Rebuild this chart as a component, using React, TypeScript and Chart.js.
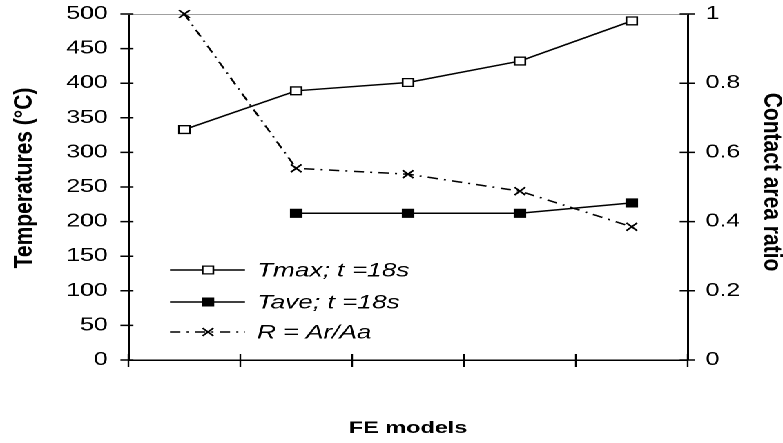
import React, { useEffect, useRef } from 'react';
import { Chart, registerables } from 'chart.js';

Chart.register(...registerables);

// ---- data ----
const categories = ['Model 1', 'Model 2', 'Model 3', 'Model 4', 'Model 5'];
const tmax = [333, 389, 401, 432, 490];
const tave = [null, 212, 212, 212, 227];
const ratio = [1.0, 0.554, 0.537, 0.488, 0.385];
const seriesLabels = ['Tmax; t =18s', 'Tave; t =18s', 'R = Ar/Aa'];
const leftTitle = 'Temperatures (°C)';
const rightTitle = 'Contact area ratio';
const xTitle = 'FE models';

// ---- layout (drawn at narrow width, then stretched horizontally like the reference) ----
const W = 567;
const H = 443;
const SX = 783 / W;
const DASH = [7.5, 4.5, 1.5, 4.5];
const FONT = "'Liberation Sans', Arial, sans-serif";

const axisDecor = {
  id: 'axisDecor',
  beforeDatasetsDraw(chart: any) {
    const { ctx, chartArea: ca, scales } = chart;
    ctx.save();
    ctx.strokeStyle = '#a0a0a0';
    ctx.lineWidth = 1;
    ctx.beginPath();
    ctx.moveTo(ca.left, ca.top + 0.5);
    ctx.lineTo(ca.right, ca.top + 0.5);
    ctx.stroke();

    ctx.strokeStyle = '#000';
    ctx.lineWidth = 1.5;
    ctx.beginPath();
    for (const t of scales.y.ticks) {
      const py = scales.y.getPixelForValue(t.value);
      ctx.moveTo(ca.left - 5.8, py);
      ctx.lineTo(ca.left + 3.6, py);
    }
    for (const t of scales.y1.ticks) {
      const py = scales.y1.getPixelForValue(t.value);
      ctx.moveTo(ca.right - 5.8, py);
      ctx.lineTo(ca.right + 5, py);
    }
    ctx.stroke();
    ctx.lineWidth = 1.2;
    ctx.beginPath();
    for (let i = 0; i <= categories.length; i++) {
      const px = scales.x.getPixelForValue(i - 0.5);
      ctx.moveTo(px, ca.bottom - 6);
      ctx.lineTo(px, ca.bottom + 7);
    }
    ctx.stroke();
    ctx.restore();
  },
  afterDraw(chart: any) {
    const { ctx } = chart;
    const k = 1.2 / SX;
    const draw = (text: string, cx: number, cy: number, rot: number) => {
      ctx.save();
      ctx.translate(cx, cy);
      ctx.scale(k, 1);
      ctx.rotate(rot);
      ctx.font = `bold 21px ${FONT}`;
      ctx.fillStyle = '#000';
      ctx.textAlign = 'center';
      ctx.textBaseline = 'middle';
      ctx.fillText(text, 0, 0);
      ctx.restore();
    };
    draw(leftTitle, 18.1, 178, -Math.PI / 2);
    draw(rightTitle, 558.3, 182, Math.PI / 2);
  },
};

function drawRect(ctx: CanvasRenderingContext2D, x: number, y: number, fill: string) {
  const s = 5.5 * Math.SQRT2;
  ctx.beginPath();
  ctx.rect(x - s / 2, y - s / 2, s, s);
  ctx.fillStyle = fill;
  ctx.fill();
  ctx.lineWidth = 1.3;
  ctx.strokeStyle = '#000';
  ctx.stroke();
}

function drawCross(ctx: CanvasRenderingContext2D, x: number, y: number) {
  const h = 5.5 * Math.SQRT1_2;
  ctx.beginPath();
  ctx.moveTo(x - h, y - h);
  ctx.lineTo(x + h, y + h);
  ctx.moveTo(x - h, y + h);
  ctx.lineTo(x + h, y - h);
  ctx.lineWidth = 1.5;
  ctx.strokeStyle = '#000';
  ctx.stroke();
}

const legendBox = {
  id: 'legendBox',
  afterDatasetsDraw(chart: any) {
    const { ctx } = chart;
    const x0 = 123.1;
    const x1 = 177.4;
    const xm = 150.6;
    const xt = 186.1;
    const rows = [270, 302, 332];
    ctx.save();
    rows.forEach((y, i) => {
      ctx.beginPath();
      ctx.setLineDash(i === 2 ? DASH : []);
      ctx.moveTo(x0, y);
      ctx.lineTo(x1, y);
      ctx.lineWidth = 1.5;
      ctx.strokeStyle = '#000';
      ctx.stroke();
      ctx.setLineDash([]);
      if (i === 0) drawRect(ctx, xm, y, '#fff');
      else if (i === 1) drawRect(ctx, xm, y, '#000');
      else drawCross(ctx, xm, y);
      ctx.fillStyle = '#000';
      ctx.font = `italic 19px ${FONT}`;
      ctx.textAlign = 'left';
      ctx.textBaseline = 'middle';
      ctx.fillText(seriesLabels[i], xt, y + 1);
    });
    ctx.restore();
  },
};

const fmtRatio = (v: any) => String(Number(Number(v).toFixed(1)));

export default function App() {
  const ref = useRef<HTMLCanvasElement | null>(null);

  useEffect(() => {
    if (!ref.current) return;
    const tickFont = { family: FONT, size: 18 };
    const chart = new Chart(ref.current, {
      type: 'line',
      data: {
        labels: categories,
        datasets: [
          {
            label: seriesLabels[0],
            data: tmax,
            yAxisID: 'y',
            borderColor: '#000',
            borderWidth: 1.5,
            pointStyle: 'rect',
            pointRadius: 5.5,
            pointBackgroundColor: '#fff',
            pointBorderColor: '#000',
            pointBorderWidth: 1.3,
            tension: 0,
            clip: false,
          } as any,
          {
            label: seriesLabels[1],
            data: tave,
            yAxisID: 'y',
            borderColor: '#000',
            borderWidth: 1.5,
            pointStyle: 'rect',
            pointRadius: 5.5,
            pointBackgroundColor: '#000',
            pointBorderColor: '#000',
            pointBorderWidth: 1.3,
            tension: 0,
            clip: false,
          } as any,
          {
            label: seriesLabels[2],
            data: ratio,
            yAxisID: 'y1',
            borderColor: '#000',
            borderWidth: 1.5,
            borderDash: DASH,
            pointStyle: 'crossRot',
            pointRadius: 5.5,
            pointBorderColor: '#000',
            pointBorderWidth: 1.5,
            tension: 0,
            clip: false,
          } as any,
        ],
      },
      options: {
        responsive: false,
        animation: false,
        devicePixelRatio: 2,
        layout: { padding: { top: 14, left: 0, right: 0, bottom: 0 }, autoPadding: false } as any,
        plugins: { legend: { display: false }, tooltip: { enabled: false } },
        scales: {
          x: {
            type: 'category',
            offset: true,
            grid: { display: false, drawTicks: false },
            border: { display: true, color: '#000', width: 1.5 },
            ticks: { display: false },
            title: {
              display: true,
              text: xTitle,
              color: '#000',
              font: { family: FONT, size: 17, weight: 'bold', lineHeight: 1 },
              padding: { top: 0, bottom: 6 },
            },
            afterFit: (s: any) => {
              s.height = 83;
              s.paddingLeft = 0;
              s.paddingRight = 0;
            },
          },
          y: {
            position: 'left',
            min: 0,
            max: 500,
            grid: { display: false, drawTicks: false },
            border: { display: true, color: '#000', width: 1.5 },
            ticks: { stepSize: 50, padding: 15, color: '#000', font: tickFont },
            title: { display: false, text: leftTitle },
            afterFit: (s: any) => {
              s.width = 93;
              s.paddingTop = 0;
              s.paddingBottom = 0;
            },
          },
          y1: {
            position: 'right',
            min: 0,
            max: 1,
            grid: { display: false, drawTicks: false },
            border: { display: true, color: '#000', width: 1.5 },
            ticks: { stepSize: 0.2, padding: 13, color: '#000', font: tickFont, callback: fmtRatio },
            title: { display: false, text: rightTitle },
            afterFit: (s: any) => {
              s.width = W - 498;
              s.paddingTop = 0;
              s.paddingBottom = 0;
            },
          },
        },
      } as any,
      plugins: [axisDecor, legendBox],
    });
    return () => chart.destroy();
  }, []);

  return (
    <div
      style={{
        position: 'fixed',
        left: 0,
        top: 0,
        width: W,
        height: H,
        background: '#fff',
        transform: `scaleX(${SX})`,
        transformOrigin: '0 0',
      }}
    >
      <canvas ref={ref} width={W} height={H} />
    </div>
  );
}
